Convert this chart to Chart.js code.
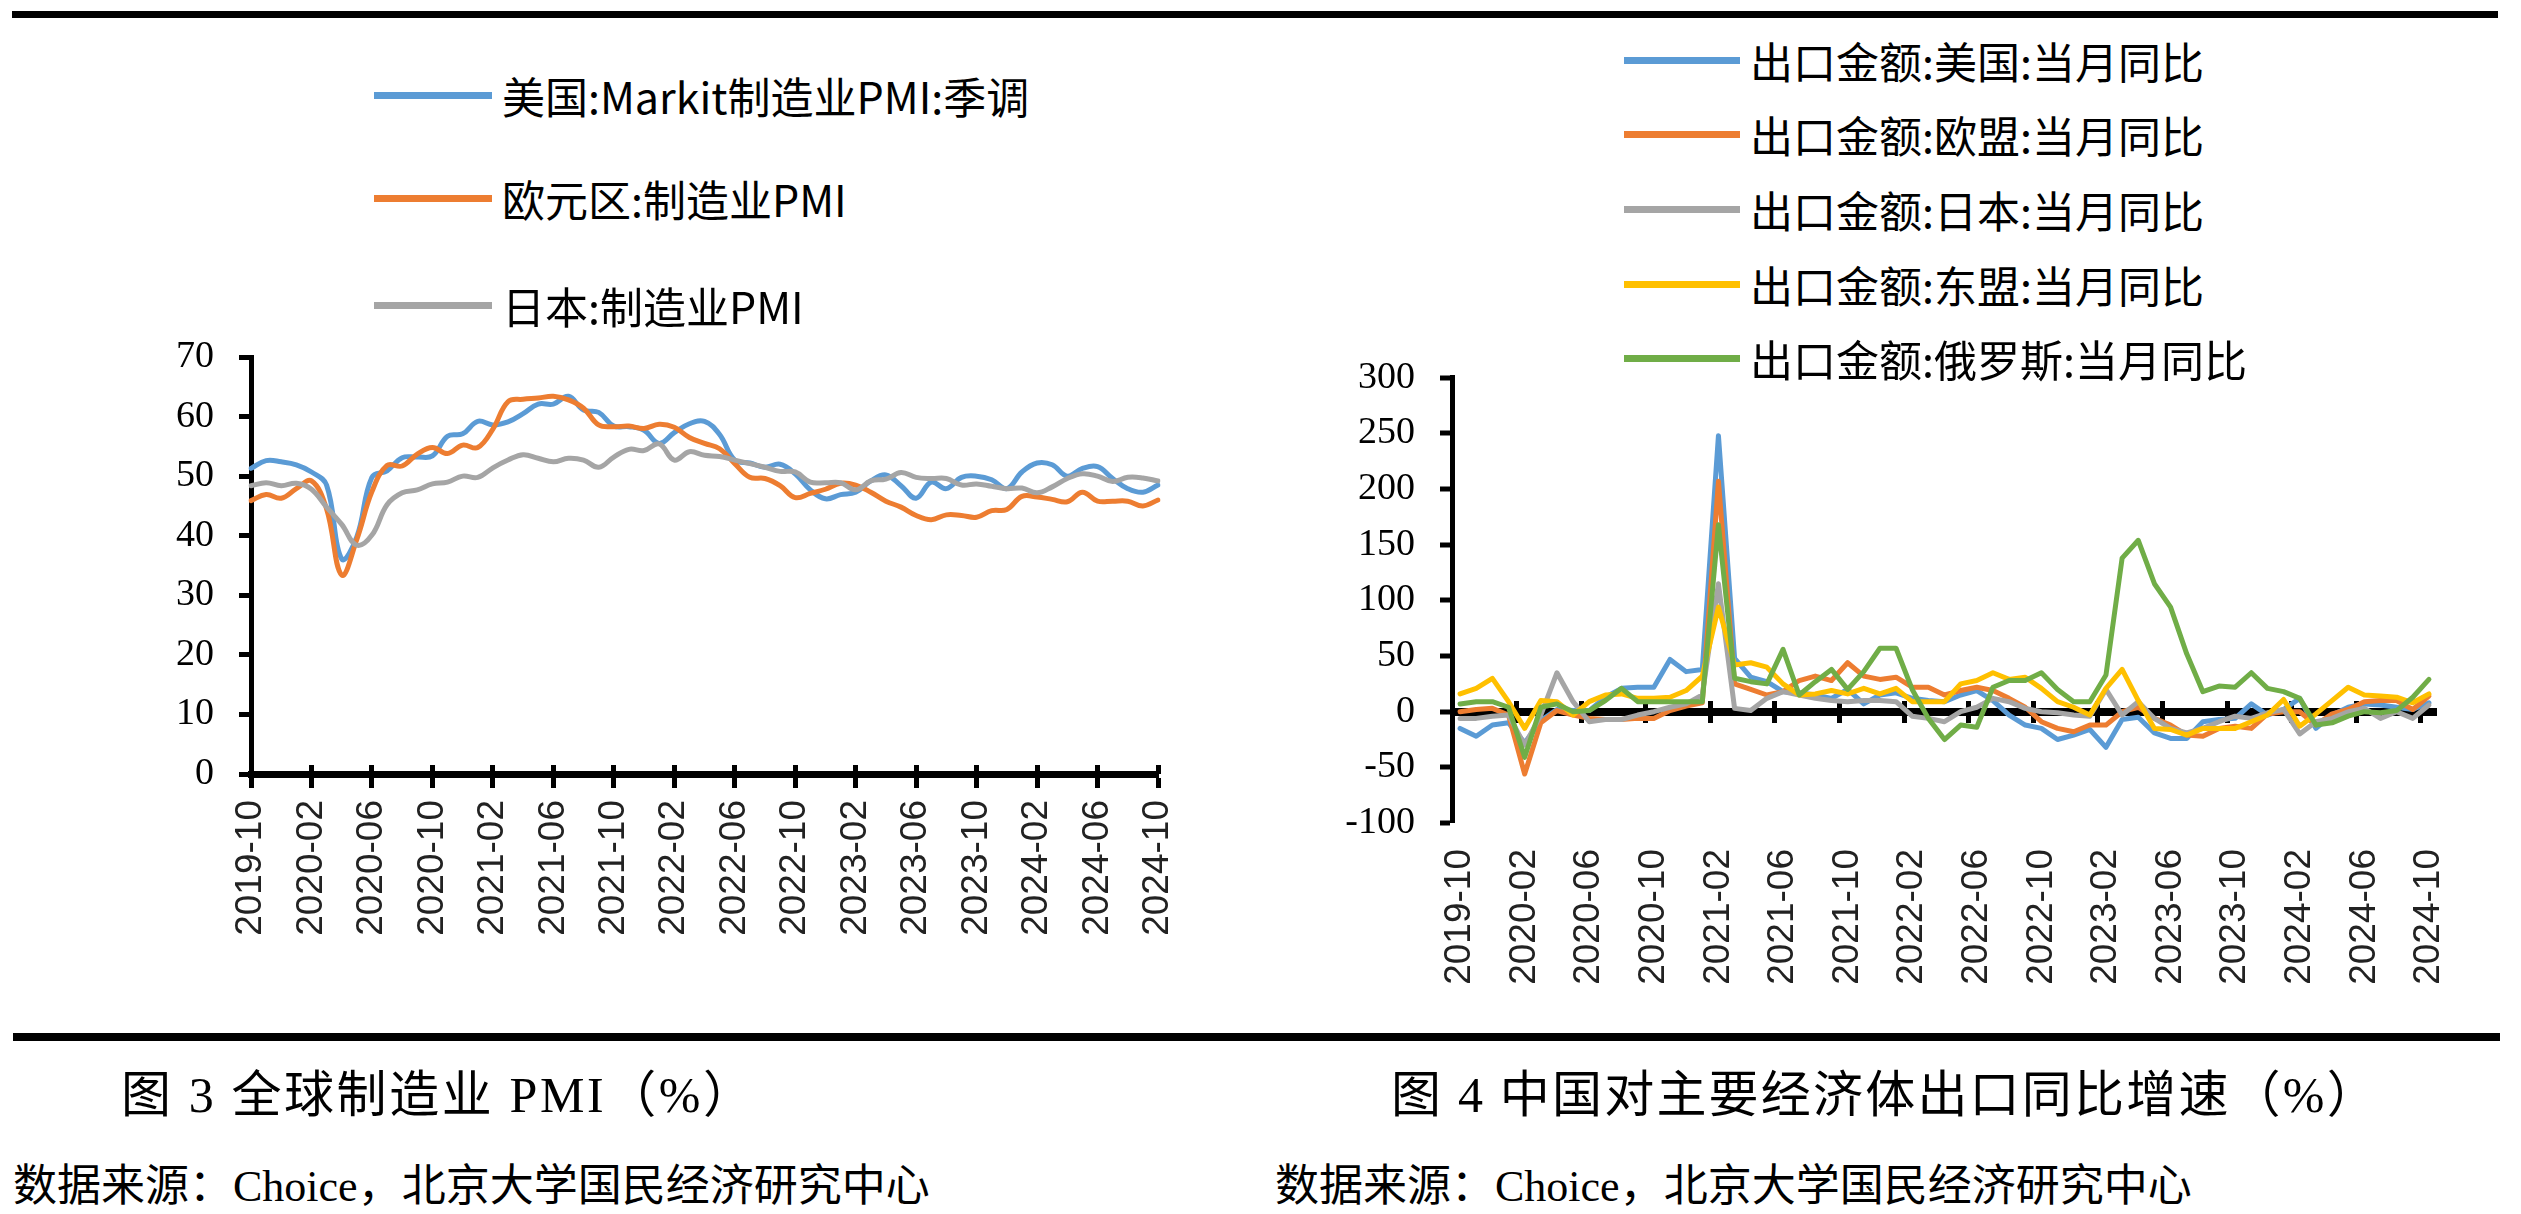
<!DOCTYPE html>
<html>
<head>
<meta charset="utf-8">
<script src="https://cdn.jsdelivr.net/npm/chart.js@4.4.1/dist/chart.umd.min.js"></script>
<style>
  html, body { margin: 0; padding: 0; background: #fff; }
  #page { position: relative; width: 2521px; height: 1214px; overflow: hidden; background: #fff; }
  .rule { position: absolute; background: #000; }
  canvas { position: absolute; }
  .legend-row { position: absolute; height: 56px; display: flex; align-items: center; white-space: nowrap; }
  .legend-row .swatch { height: 7px; margin-right: 10px; }
  .legend-row span { font-family: "Noto Sans CJK SC", sans-serif; font-size: 43px; color: #000; }
  .caption { position: absolute; white-space: nowrap; line-height: 60px; color: #000;
             font-family: "Liberation Serif", "Noto Sans CJK SC", serif; }
</style>
</head>
<body>
<div id="page">
  <div class="rule" style="left:12px; top:11px; width:2486px; height:7px;"></div>
  <div class="rule" style="left:13px; top:1033px; width:2487px; height:8px;"></div>

  <canvas id="pmiChart" width="1120" height="720" style="left:100px; top:300px;"></canvas>
  <canvas id="exportChart" width="1200" height="700" style="left:1300px; top:330px;"></canvas>

  <div id="pmiLegend"></div>
  <div id="exportLegend"></div>

  <div class="caption" style="left:121px; top:1065px; font-size:50px; letter-spacing:2.6px;">图 3 全球制造业 PMI（%）</div>
  <div class="caption" style="left:1391px; top:1065px; font-size:50px; letter-spacing:2.2px;">图 4 中国对主要经济体出口同比增速（%）</div>
  <div class="caption" style="left:13px; top:1157px; font-size:44px;">数据来源：Choice，北京大学国民经济研究中心</div>
  <div class="caption" style="left:1275px; top:1157px; font-size:44px;">数据来源：Choice，北京大学国民经济研究中心</div>
</div>

<script>
// categories (monthly, 2019-10 .. 2024-10)
const months = [
  '2019-10', '2019-11', '2019-12',
  '2020-01', '2020-02', '2020-03', '2020-04', '2020-05', '2020-06', '2020-07', '2020-08', '2020-09', '2020-10', '2020-11', '2020-12',
  '2021-01', '2021-02', '2021-03', '2021-04', '2021-05', '2021-06', '2021-07', '2021-08', '2021-09', '2021-10', '2021-11', '2021-12',
  '2022-01', '2022-02', '2022-03', '2022-04', '2022-05', '2022-06', '2022-07', '2022-08', '2022-09', '2022-10', '2022-11', '2022-12',
  '2023-01', '2023-02', '2023-03', '2023-04', '2023-05', '2023-06', '2023-07', '2023-08', '2023-09', '2023-10', '2023-11', '2023-12',
  '2024-01', '2024-02', '2024-03', '2024-04', '2024-05', '2024-06', '2024-07', '2024-08', '2024-09', '2024-10'
];
const labelEvery = 4; // a tick label every 4 months

// figure 3: manufacturing PMI
const pmiNames = ['美国:Markit制造业PMI:季调', '欧元区:制造业PMI', '日本:制造业PMI'];
const pmiUS = [
  51.3, 52.6, 52.4,
  51.9, 50.7, 48.5, 36.1, 39.8, 49.8, 50.9, 53.1, 53.2, 53.4, 56.7, 57.1,
  59.2, 58.6, 59.1, 60.5, 62.1, 62.1, 63.4, 61.1, 60.7, 58.4, 58.3, 57.7,
  55.5, 57.3, 58.8, 59.2, 57.0, 52.7, 52.2, 51.5, 52.0, 50.4, 47.7, 46.2,
  46.9, 47.3, 49.2, 50.2, 48.4, 46.3, 49.0, 47.9, 49.8, 50.0, 49.4, 47.9,
  50.7, 52.2, 51.9, 50.0, 51.3, 51.6, 49.6, 47.9, 47.3, 48.5
];
const pmiEuro = [
  45.9, 46.9, 46.3,
  47.9, 49.2, 44.5, 33.4, 39.4, 47.4, 51.8, 51.7, 53.7, 54.8, 53.8, 55.2,
  54.8, 57.9, 62.5, 62.9, 63.1, 63.4, 62.8, 61.4, 58.6, 58.3, 58.4, 58.0,
  58.7, 58.2, 56.5, 55.5, 54.6, 52.1, 49.8, 49.6, 48.4, 46.4, 47.1, 47.8,
  48.8, 48.5, 47.3, 45.8, 44.8, 43.4, 42.7, 43.5, 43.4, 43.1, 44.2, 44.4,
  46.6, 46.5, 46.1, 45.7, 47.3, 45.8, 45.8, 45.8, 45.0, 46.0
];
const pmiJapan = [
  48.4, 48.9, 48.4,
  48.8, 47.8, 44.8, 41.9, 38.4, 40.1, 45.2, 47.2, 47.7, 48.7, 49.0, 50.0,
  49.8, 51.4, 52.7, 53.6, 53.0, 52.4, 53.0, 52.7, 51.5, 53.2, 54.5, 54.3,
  55.4, 52.7, 54.1, 53.5, 53.3, 52.7, 52.1, 51.5, 50.8, 50.7, 49.0, 48.9,
  48.9, 47.7, 49.2, 49.5, 50.6, 49.8, 49.6, 49.6, 48.5, 48.7, 48.3, 47.9,
  48.0, 47.2, 48.2, 49.6, 50.4, 50.0, 49.1, 49.8, 49.7, 49.2
];
const pmiAxis = { min: 0, max: 70, step: 10 };

// figure 4: China's exports by destination, y/y %
const exportNames = ['出口金额:美国:当月同比', '出口金额:欧盟:当月同比', '出口金额:日本:当月同比',
                     '出口金额:东盟:当月同比', '出口金额:俄罗斯:当月同比'];
const exportUS = [
  -15, -22, -12,
  -10, -28, -8, 2, 1, 1, 13, 21, 22, 22, 47, 36,
  38, 248, 48, 31, 27, 18, 17, 15, 12, 20, 7, 15,
  17, 12, 10, 9, 15, 19, 10, -3, -12, -15, -25, -21,
  -16, -32, -7, -5, -19, -24, -24, -9, -7, -6, 7, -3,
  2, 12, -15, -3, 4, 7, 6, 4, 2, 8
];
const exportEU = [
  0, 2, 3,
  -3, -56, -10, 1, -3, -6, -7, -7, -6, -6, 1, 5,
  8, 207, 25, 20, 15, 18, 28, 32, 28, 44, 32, 29,
  31, 22, 22, 15, 19, 22, 19, 12, 4, -9, -15, -18,
  -12, -12, 0, 4, -6, -12, -21, -22, -15, -13, -15, -2,
  0, 0, -12, -2, 2, 9, 10, 10, 2, 14
];
const exportJapan = [
  -6, -6, -4,
  -3, -30, -3, 35, 9, -9, -7, -7, -3, 0, 4, 7,
  15, 115, 3, 1, 12, 18, 15, 12, 10, 9, 10, 10,
  9, -4, -6, -9, 0, 4, 12, 9, 3, 0, -1, -3,
  -4, 20, -3, 9, -6, -15, -19, -15, -9, -4, -6, -1,
  2, -20, -9, -6, 0, 3, -6, 0, -6, 6
];
const exportASEAN = [
  16, 21, 30,
  9, -15, 10, 9, -3, 9, 15, 16, 12, 12, 13, 19,
  32, 94, 42, 44, 40, 25, 15, 16, 19, 16, 21, 16,
  21, 9, 9, 9, 25, 28, 35, 29, 31, 21, 9, 4,
  -3, 21, 38, 10, -15, -16, -21, -15, -15, -15, -9, -3,
  11, -13, -2, 10, 22, 15, 14, 13, 8, 16
];
const exportRussia = [
  7, 9, 9,
  4, -41, 4, 7, 0, 1, 10, 21, 9, 9, 9, 9,
  9, 168, 30, 27, 25, 56, 15, 27, 38, 20, 36, 57,
  57, 20, -6, -25, -12, -14, 22, 28, 28, 35, 20, 9,
  9, 33, 138, 154, 115, 94, 52, 18, 23, 22, 35, 21,
  18, 12, -12, -10, -4, 0, -1, 1, 13, 29
];
const exportAxis = { min: -100, max: 300, step: 50 };

const seriesColors = ['#5B9BD5', '#ED7D31', '#A5A5A5', '#FFC000', '#70AD47'];

/**
 * One line dataset. Later series are drawn on top, like the spreadsheet original.
 */
function lineSet(label, data, index, count, tension) {
  return {
    label: label,
    data: data,
    borderColor: seriesColors[index],
    backgroundColor: seriesColors[index],
    borderWidth: 5,
    pointRadius: 0,
    tension: tension,
    order: count - 1 - index,
    borderJoinStyle: 'round',
    borderCapStyle: 'round',
    fill: false
  };
}

// keep only every 4th month on the category axis
function keepEvery4th(scale) {
  scale.ticks = scale.ticks.filter(t => t.value % labelEvery === 0);
}

// an invisible helper axis sitting on y=0 that only paints tick marks
function tickMarkAxis(min, max, shift, length) {
  return {
    type: 'linear',
    axis: 'x',
    position: { y: 0 },
    min: min,
    max: max,
    ticks: { display: false },
    border: { display: false },
    grid: { drawOnChartArea: false, drawTicks: true, tickLength: length, tickWidth: 5, tickColor: '#000' },
    afterBuildTicks: scale => {
      scale.ticks = months.map((m, i) => i).filter(i => i % labelEvery === 0).map(i => ({ value: i + shift }));
    },
    afterFit: scale => { scale.height = 0; }
  };
}

const xLabelFont = { family: 'Liberation Sans', size: 37 };
const yLabelFont = { family: 'Liberation Serif', size: 38 };

const pmiChart = new Chart(document.getElementById('pmiChart'), {
  type: 'line',
  data: {
    labels: months,
    datasets: [
      lineSet(pmiNames[0], pmiUS, 0, 3, 0.4),
      lineSet(pmiNames[1], pmiEuro, 1, 3, 0.4),
      lineSet(pmiNames[2], pmiJapan, 2, 3, 0.4)
    ]
  },
  options: {
    responsive: false,
    animation: false,
    devicePixelRatio: 1,
    layout: { padding: { left: 0, top: 57, right: 62, bottom: 0 } },
    plugins: { legend: { display: false }, tooltip: { enabled: false } },
    scales: {
      x: {
        type: 'category',
        offset: false,
        border: { display: true, width: 7, color: '#000' },
        grid: { drawOnChartArea: false, drawTicks: true, tickLength: 14, tickWidth: 5, color: '#000' },
        ticks: { autoSkip: false, minRotation: 90, maxRotation: 90, padding: 12, font: xLabelFont, color: '#222' },
        afterBuildTicks: keepEvery4th,
        afterFit: scale => { scale.height = 246; }
      },
      xTickUp: tickMarkAxis(0, months.length - 1, 0, -9),
      y: {
        min: pmiAxis.min,
        max: pmiAxis.max,
        border: { display: true, width: 5, color: '#000' },
        grid: { drawOnChartArea: false, tickLength: 12, tickWidth: 5, color: '#000' },
        ticks: { stepSize: pmiAxis.step, padding: 25, font: yLabelFont, color: '#000' },
        afterFit: scale => { scale.width = 151; }
      }
    }
  }
});

const exportChart = new Chart(document.getElementById('exportChart'), {
  type: 'line',
  data: {
    labels: months,
    datasets: [
      lineSet(exportNames[0], exportUS, 0, 5, 0),
      lineSet(exportNames[1], exportEU, 1, 5, 0),
      lineSet(exportNames[2], exportJapan, 2, 5, 0),
      lineSet(exportNames[3], exportASEAN, 3, 5, 0),
      lineSet(exportNames[4], exportRussia, 4, 5, 0)
    ]
  },
  options: {
    responsive: false,
    animation: false,
    devicePixelRatio: 1,
    layout: { padding: { left: 0, top: 38, right: 63, bottom: 0 } },
    plugins: { legend: { display: false }, tooltip: { enabled: false } },
    scales: {
      x: {
        type: 'category',
        offset: true,
        border: { display: false },
        grid: { display: false, drawTicks: false },
        ticks: { autoSkip: false, minRotation: 90, maxRotation: 90, padding: 26, font: xLabelFont, color: '#222' },
        afterBuildTicks: keepEvery4th,
        afterFit: scale => { scale.height = 207; }
      },
      xTickDown: tickMarkAxis(-0.5, months.length - 0.5, -0.5, 11),
      xTickUp: tickMarkAxis(-0.5, months.length - 0.5, -0.5, -11),
      y: {
        min: exportAxis.min,
        max: exportAxis.max,
        border: { display: true, width: 5, color: '#000' },
        grid: {
          drawOnChartArea: true,
          color: ctx => (ctx.tick && ctx.tick.value === 0 ? '#000' : 'rgba(0,0,0,0)'),
          lineWidth: ctx => (ctx.tick && ctx.tick.value === 0 ? 8 : 0),
          tickLength: 12, tickWidth: 5, tickColor: '#000'
        },
        ticks: { stepSize: exportAxis.step, padding: 25, font: yLabelFont, color: '#000' },
        afterFit: scale => { scale.width = 152; }
      }
    }
  }
});

/**
 * Builds a vertical legend: one row per series, a short coloured line then the name.
 */
function buildLegend(containerId, names, left, rowCenters, lineWidth) {
  const box = document.getElementById(containerId);
  names.forEach((name, i) => {
    const row = document.createElement('div');
    row.className = 'legend-row';
    row.style.left = left + 'px';
    row.style.top = (rowCenters[i] - 28) + 'px';
    row.innerHTML = `<div class="swatch" style="width:${lineWidth}px;background:${seriesColors[i]}"></div><span>${name}</span>`;
    box.appendChild(row);
  });
}

buildLegend('pmiLegend', pmiNames, 374, [95, 198, 305], 118);
buildLegend('exportLegend', exportNames, 1624, [60, 134, 209, 284, 358], 116);
</script>
</body>
</html>
